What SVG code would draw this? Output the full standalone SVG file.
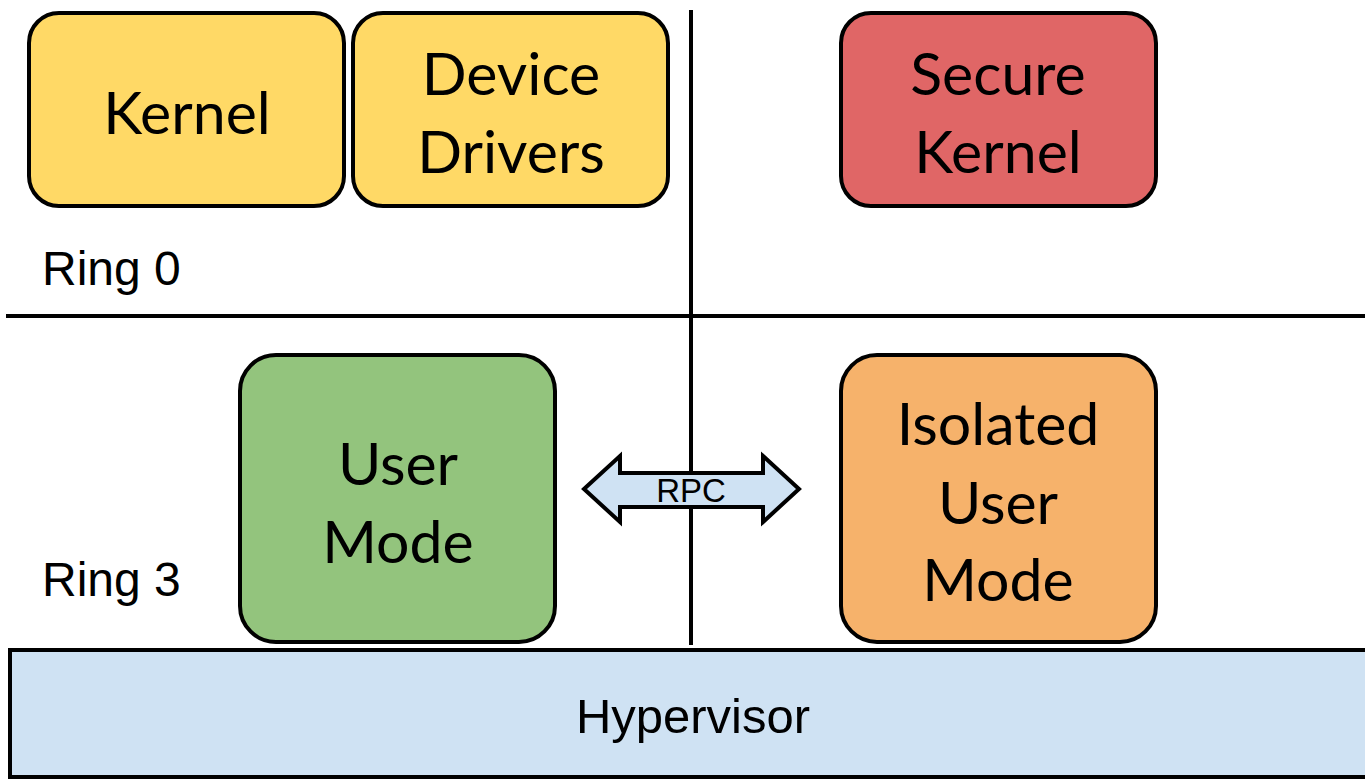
<svg xmlns="http://www.w3.org/2000/svg" width="1365" height="779" viewBox="0 0 1365 779">
  <style>
    .box { stroke: #000; stroke-width: 4; }
    .lbl { font-family: Lato, "Open Sans", "Liberation Sans", sans-serif; font-size: 59px; fill: #000; text-anchor: middle; }
    .ring { font-family: "Liberation Sans", Arial, sans-serif; font-size: 48px; fill: #000; }
    .sans { font-family: "Liberation Sans", Arial, sans-serif; fill: #000; text-anchor: middle; }
    .divider { stroke: #000; stroke-width: 4; fill: none; }
  </style>
  <rect width="1365" height="779" fill="#fff"/>

  <!-- ring / world dividers -->
  <g id="dividers">
    <line class="divider" x1="691" y1="10" x2="691" y2="645"/>
    <line class="divider" x1="6" y1="316" x2="1365" y2="316"/>
  </g>

  <g id="ring0-label"><text class="ring" x="42" y="285">Ring 0</text></g>
  <g id="ring3-label"><text class="ring" x="42" y="596">Ring 3</text></g>

  <g id="kernel">
    <rect class="box" x="29" y="13" width="315" height="193" rx="30" fill="#ffd966"/>
    <text class="lbl" x="187" y="134">Kernel</text>
  </g>

  <g id="device-drivers">
    <rect class="box" x="353" y="13" width="315" height="193" rx="30" fill="#ffd966"/>
    <text class="lbl" x="511" y="95">Device</text>
    <text class="lbl" x="511" y="173">Drivers</text>
  </g>

  <g id="secure-kernel">
    <rect class="box" x="841" y="13" width="315" height="193" rx="30" fill="#e06666"/>
    <text class="lbl" x="998" y="95">Secure</text>
    <text class="lbl" x="998" y="173">Kernel</text>
  </g>

  <g id="user-mode">
    <rect class="box" x="240" y="355" width="315" height="287" rx="36" fill="#93c47d"/>
    <text class="lbl" x="398" y="485">User</text>
    <text class="lbl" x="398" y="563">Mode</text>
  </g>

  <g id="isolated-user-mode">
    <rect class="box" x="841" y="355" width="315" height="287" rx="36" fill="#f6b26b"/>
    <text class="lbl" x="998" y="445">Isolated</text>
    <text class="lbl" x="998" y="524">User</text>
    <text class="lbl" x="998" y="601">Mode</text>
  </g>

  <g id="hypervisor">
    <rect class="box" x="10" y="650" width="1360" height="127" fill="#cfe2f3"/>
    <text class="sans" x="693" y="733" font-size="49">Hypervisor</text>
  </g>

  <!-- connectors -->
  <g id="connectors">
    <g id="rpc">
      <path class="box" fill="#cfe2f3" stroke-linejoin="miter"
            d="M584,489 L620,456 L620,473 L763,473 L763,456 L799,489 L763,522 L763,507 L620,507 L620,522 Z"/>
      <text class="sans" x="691" y="502" font-size="33">RPC</text>
    </g>
  </g>
</svg>
